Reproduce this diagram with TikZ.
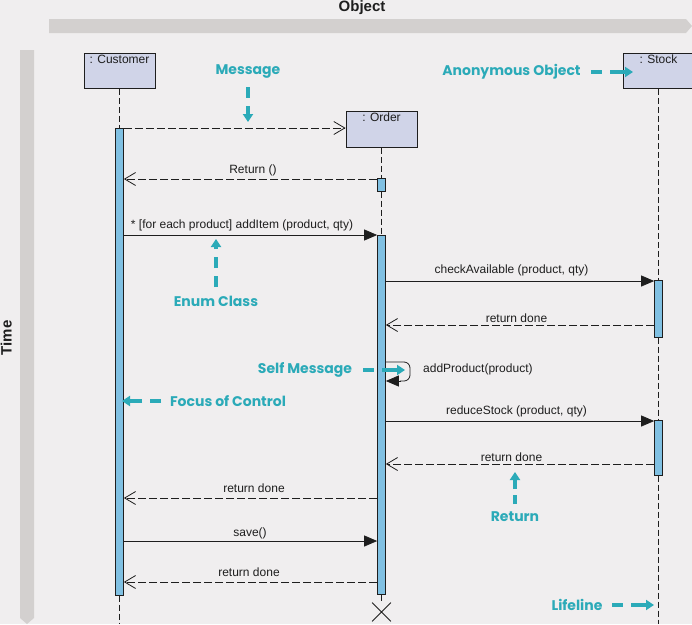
\documentclass[tikz,border=0pt]{standalone}
\usepackage{fontspec}
\setmainfont{Liberation Sans}
\newfontfamily\annotfont{Poppins}
\usetikzlibrary{arrows.meta,shapes.misc}
\definecolor{bgc}{HTML}{F0EEEF}
\definecolor{barc}{HTML}{D3D0CF}
\definecolor{boxc}{HTML}{D0D4E8}
\definecolor{actc}{HTML}{80C0E2}
\definecolor{annc}{HTML}{2BAAB8}
\definecolor{inkc}{HTML}{1E1E1E}
\begin{document}
\begin{tikzpicture}[x=1pt,y=-1pt,
  objbox/.style={draw=inkc, line width=0.9pt, fill=boxc, minimum width=71pt, minimum height=35pt, inner sep=0pt, anchor=north},
  title/.style={font=\fontsize{12}{13}\selectfont, text=inkc, anchor=north, inner sep=0pt},
  act/.style={draw=inkc, line width=0.7pt, fill=actc, minimum width=8pt, inner sep=0pt, anchor=north},
  life/.style={draw=inkc, dash pattern=on 6pt off 3pt, line width=0.8pt},
  msg/.style={draw=inkc, line width=0.8pt, -{Triangle[length=13pt,width=11pt]}},
  ret/.style={draw=inkc, line width=0.8pt, dash pattern=on 8pt off 3pt, -{Straight Barb[length=11pt,width=13pt]}},
  lbl/.style={font=\fontsize{12}{13}\selectfont, text=inkc, inner sep=0pt},
  ann/.style={font=\annotfont\bfseries\fontsize{14}{16}\selectfont, text=annc, inner sep=0pt},
  annarr/.style={draw=annc, line width=3.5pt, dash pattern=on 11pt off 8pt on 40pt off 1pt, -{Triangle[length=8pt,width=10pt]}},
  axis/.style={fill=barc, draw=none},
  axtext/.style={font=\bfseries\fontsize{15}{16}\selectfont, text=inkc, inner sep=0pt}
]
\useasboundingbox (0,0) rectangle (692,624);
\fill[bgc] (0,0) rectangle (692,624);

% axes
\fill[axis] (49,19) -- (686,19) -- (692,26) -- (686,33) -- (49,33) -- cycle;
\fill[axis] (20,50) -- (34,50) -- (34,618) -- (27,624) -- (20,618) -- cycle;
\node[axtext, anchor=base] (tobj) at (362,11.5) {Object};
\node[axtext, anchor=base, rotate=90] (ttime) at (11.5,338) {Time};

% objects
\node[objbox] (cust) at (119.5,53) {};
\node[title] (custt) at (119.5,55) {: Customer};
\node[objbox, minimum height=36pt] (ord) at (381.5,111) {};
\node[title] (ordt) at (381.5,113) {: Order};
\node[objbox] (stock) at (658.5,53) {};
\node[title] (stockt) at (658.5,55) {: Stock};

% activations
\node[act, minimum height=467pt] (ca) at (119.5,128) {};
\node[act, minimum height=13pt] (oa0) at (381.5,178) {};
\node[act, minimum height=359pt] (oa) at (381.5,235) {};
\node[act, minimum height=57pt] (sa1) at (658.5,280) {};
\node[act, minimum height=55pt] (sa2) at (658.5,420) {};
\node[cross out, draw=inkc, line width=0.8pt, minimum size=18pt, inner sep=0pt] (dx) at (381.5,612) {};
\coordinate (cend) at (119.5,624);
\coordinate (send) at (658.5,624);

% lifelines
\draw[life] (cust.south) -- (ca.north);
\draw[life] (ca.south) -- (cend);
\draw[life] (ord.south) -- (oa0.north);
\draw[life] (oa0.south) -- (oa.north);
\draw[life] (oa.south) -- (dx.north);
\draw[life] (stock.south) -- (sa1.north);
\draw[life] (sa1.south) -- (sa2.north);
\draw[life] (sa2.south) -- (send);

% messages
\draw[ret] (ca.east |- 0,128) -- (ord.west |- 0,128);
\draw[ret] (oa0.west |- 0,179) -- (ca.east |- 0,179);
\node[lbl] (l1) at (253,170) {Return ()};
\draw[msg] (ca.east |- 0,235) -- (oa.west |- 0,235);
\node[lbl] (l2) at (242,225) {* [for each product] addItem (product, qty)};
\draw[msg] (oa.east |- 0,281) -- (sa1.west |- 0,281);
\node[lbl] (l3) at (511.5,270) {checkAvailable (product, qty)};
\draw[ret] (sa1.west |- 0,325) -- (oa.east |- 0,325);
\node[lbl] (l4) at (516.5,318) {return done};
\draw[draw=inkc, line width=0.8pt, rounded corners=6pt] (oa.east |- 0,362) -- (410,362) -- (410,381) -- (400,381);
\draw[msg, rounded corners=0pt] (401,381) -- (oa.east |- 0,381);
\node[lbl, anchor=west] (l5) at (423,369) {addProduct(product)};
\draw[msg] (oa.east |- 0,421) -- (sa2.west |- 0,421);
\node[lbl] (l6) at (516.5,411) {reduceStock (product, qty)};
\draw[ret] (sa2.west |- 0,464) -- (oa.east |- 0,464);
\node[lbl] (l7) at (511.5,457) {return done};
\draw[ret] (oa.west |- 0,498) -- (ca.east |- 0,498);
\node[lbl] (l8) at (254,488.5) {return done};
\draw[msg] (ca.east |- 0,541) -- (oa.west |- 0,541);
\node[lbl] (l9) at (250,533) {save()};
\draw[ret] (oa.west |- 0,582) -- (ca.east |- 0,582);
\node[lbl] (l10) at (249,572.5) {return done};

% annotations
\node[ann] (aMsg) at (248,72) {Message};
\coordinate (aMsgS) at (248,87); \coordinate (aMsgE) at (248,122);
\draw[annarr] (aMsgS) -- (aMsgE);
\node[ann] (aAno) at (511.5,72) {Anonymous Object};
\coordinate (aAnoS) at (591,72); \coordinate (aAnoE) at (633,72);
\draw[annarr] (aAnoS) -- (aAnoE);
\node[ann] (aEnum) at (216,301) {Enum Class};
\coordinate (aEnumS) at (216,287); \coordinate (aEnumE) at (216,239);
\draw[annarr, dash pattern=on 11pt off 8pt on 11pt off 8pt on 40pt off 1pt] (aEnumS) -- (aEnumE);
\node[ann] (aSelf) at (305,370) {Self Message};
\coordinate (aSelfS) at (363,370); \coordinate (aSelfE) at (405,370);
\draw[annarr] (aSelfS) -- (aSelfE);
\node[ann] (aFoc) at (228,401) {Focus of Control};
\coordinate (aFocS) at (161,401); \coordinate (aFocE) at (122,401);
\draw[annarr] (aFocS) -- (aFocE);
\node[ann] (aRet) at (515,517) {Return};
\coordinate (aRetS) at (515,504); \coordinate (aRetE) at (515,472);
\draw[annarr, dash pattern=on 9pt off 6pt on 40pt off 1pt] (aRetS) -- (aRetE);
\node[ann] (aLife) at (577,605) {Lifeline};
\coordinate (aLifeS) at (612,605); \coordinate (aLifeE) at (654,605);
\draw[annarr] (aLifeS) -- (aLifeE);
\end{tikzpicture}
\end{document}
